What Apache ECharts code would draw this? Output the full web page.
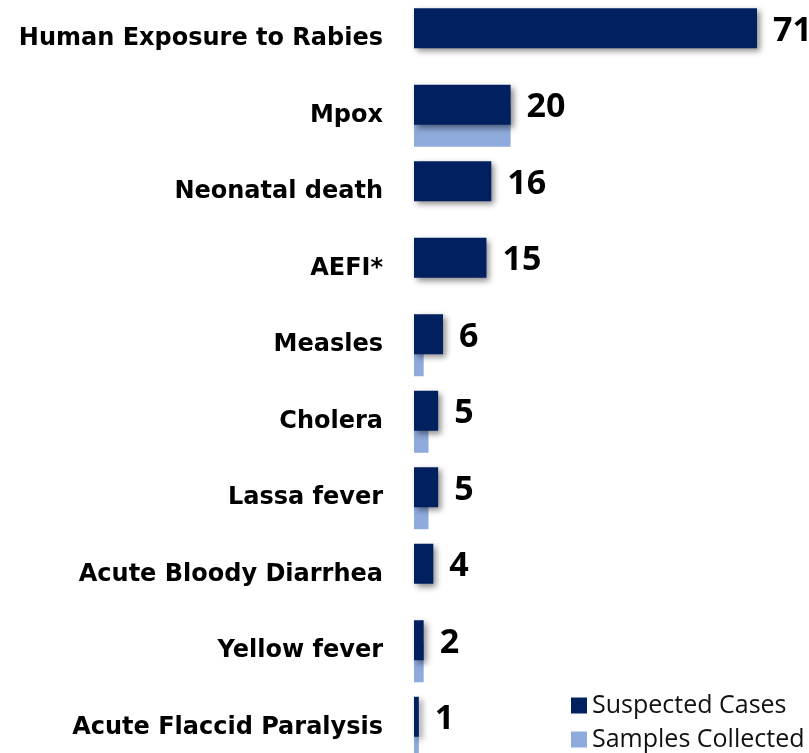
<!DOCTYPE html>
<html>
<head>
<meta charset="utf-8">
<script src="https://cdn.jsdelivr.net/npm/echarts@6/dist/echarts.min.js"></script>
<style>
  html, body { margin: 0; padding: 0; background: #fff; overflow: hidden; }
  /* taller than the window: the last row of bars runs off the bottom edge, as in the original */
  #chart { width: 809px; height: 775px; }
</style>
</head>
<body>
<div id="chart"></div>
<script>
// categories, top to bottom
const diseases = [
    "Human Exposure to Rabies", "Mpox", "Neonatal death", "AEFI*", "Measles",
    "Cholera", "Lassa fever", "Acute Bloody Diarrhea", "Yellow fever", "Acute Flaccid Paralysis"
];
const suspected = [71, 20, 16, 15, 6, 5, 5, 4, 2, 1];
const samples = [0, 20, 0, 0, 2, 3, 3, 0, 2, 1];

const dark = "#00205f";
const light = "#8faadc";
const font = "'Open Sans', 'Noto Sans', sans-serif";

let myChart = echarts.init(document.getElementById("chart"));
let option = {
    animation: false,
    grid: { left: 414, right: 52, top: 1, height: 765 },
    legend: {
        orient: "vertical",
        left: 566,
        top: 688,
        itemWidth: 16,
        itemHeight: 16,
        itemGap: 9,
        icon: "rect",
        textStyle: { fontFamily: font, fontSize: 25, color: "#111" },
        data: ["Suspected Cases", "Samples Collected"]
    },
    xAxis: {
        type: "value",
        min: 0,
        max: 71,
        show: false
    },
    yAxis: {
        type: "category",
        inverse: true,
        data: diseases,
        axisLine: { show: false },
        axisTick: { show: false },
        axisLabel: {
            margin: 31,
            fontFamily: "'DejaVu Sans', sans-serif",
            fontSize: 24,
            fontWeight: "bold",
            color: "#000"
        }
    },
    series: [
        {
            name: "Suspected Cases",
            type: "bar",
            data: suspected,
            barWidth: 40,
            barGap: "-45%",
            z: 3,
            itemStyle: {
                color: dark,
                shadowColor: "rgba(0,0,0,0.45)",
                shadowBlur: 6,
                shadowOffsetX: 3,
                shadowOffsetY: 3
            },
            label: {
                show: true,
                position: "right",
                distance: 16,
                offset: [0, 3],
                fontFamily: font,
                fontSize: 34,
                fontWeight: "bold",
                color: "#000"
            }
        },
        {
            name: "Samples Collected",
            type: "bar",
            data: samples,
            barWidth: 40,
            z: 2,
            itemStyle: { color: light }
        }
    ]
};
myChart.setOption(option);
</script>
</body>
</html>
